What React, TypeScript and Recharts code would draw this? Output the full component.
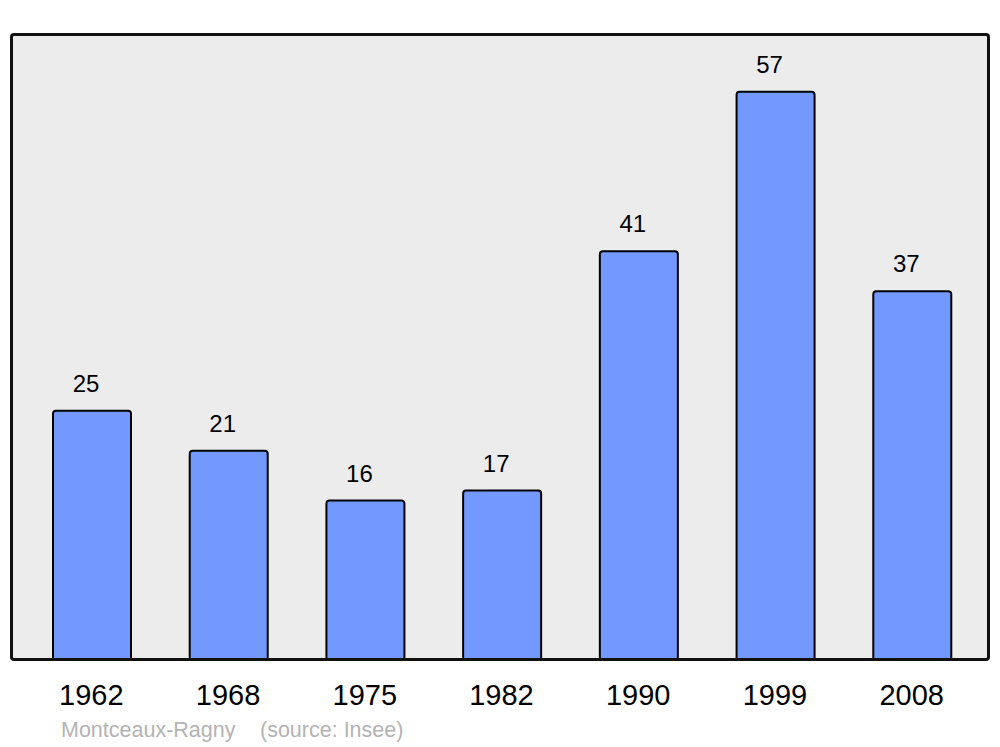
import React from "react";
import { BarChart, Bar, XAxis, YAxis, LabelList } from "recharts";

const years = ["1962", "1968", "1975", "1982", "1990", "1999", "2008"];
const population = [25, 21, 16, 17, 41, 57, 37];
const placeName = "Montceaux-Ragny";
const sourceText = "(source: Insee)";

const data = years.map((y, i) => ({ year: y, value: population[i] }));

const FONT = "'Liberation Sans', Arial, sans-serif";

const ValueLabel = (props: any) => {
  const { x, y, width, value } = props;
  return (
    <text
      x={x + width / 2 - 6}
      y={y - 19}
      textAnchor="middle"
      fontSize={24}
      fontFamily={FONT}
      fill="#000"
    >
      {value}
    </text>
  );
};

const YearTick = (props: any) => {
  const { x, payload } = props;
  return (
    <text x={x - 1} y={705} textAnchor="middle" fontSize={29} fontFamily={FONT} fill="#000">
      {payload.value}
    </text>
  );
};

export default function App() {
  return (
    <div style={{ position: "absolute", left: 0, top: 0, width: 1000, height: 747, background: "#fff" }}>
      <div
        style={{
          position: "absolute",
          left: 10,
          top: 33,
          width: 980,
          height: 628,
          background: "#ececec",
          borderRadius: 4,
          boxSizing: "border-box",
        }}
      />
      <div style={{ position: "absolute", left: 0, top: 0 }}>
        <BarChart
          width={1000}
          height={747}
          data={data}
          margin={{ top: 34, right: 19, bottom: 0, left: 24 }}
          barSize={78}
        >
          <XAxis
            dataKey="year"
            axisLine={false}
            tickLine={false}
            tick={<YearTick />}
            interval={0}
            height={87}
          />
          <YAxis hide domain={[0, 62.8]} type="number" allowDataOverflow />
          <Bar
            dataKey="value"
            fill="#7399ff"
            stroke="#000"
            strokeWidth={2}
            radius={[3, 3, 0, 0]}
            isAnimationActive={false}
          >
            <LabelList dataKey="value" content={<ValueLabel />} />
          </Bar>
        </BarChart>
      </div>
      <div
        style={{
          position: "absolute",
          left: 10,
          top: 33,
          width: 980,
          height: 628,
          border: "3px solid #111",
          borderRadius: 4,
          boxSizing: "border-box",
          pointerEvents: "none",
        }}
      />
      <svg
        width={1000}
        height={747}
        style={{ position: "absolute", left: 0, top: 0, pointerEvents: "none" }}
      >
        <text x={61} y={737} fontSize={21.5} fontFamily={FONT} fill="#b3b3b3">
          {placeName}
        </text>
        <text x={260} y={737} fontSize={21.5} fontFamily={FONT} fill="#b3b3b3">
          {sourceText}
        </text>
      </svg>
    </div>
  );
}
